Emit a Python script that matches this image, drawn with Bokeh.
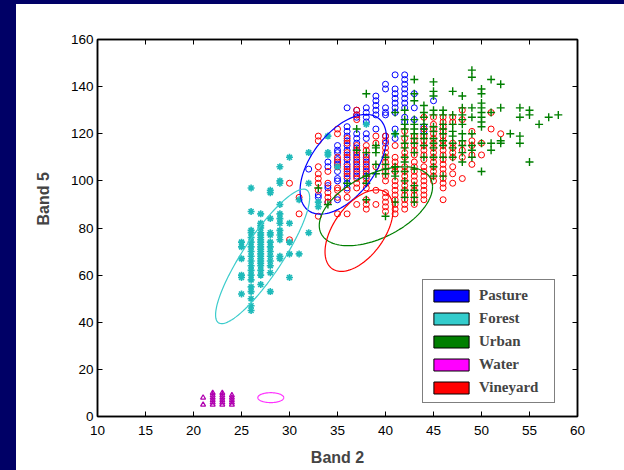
import numpy as np
from bokeh.plotting import figure
from bokeh.models import Range1d, FixedTicker, LinearAxis, Legend, LegendItem, Title, Div
from bokeh.layouts import row, column
from bokeh.embed import file_html
from bokeh.resources import INLINE

# ---------------- data (Band 2 value -> list of Band 5 values) ----------------
pasture_cols = {
    32: [105], 33: [94, 93], 34: [108, 106, 98, 97, 91],
    35: [115, 113, 112, 109, 107, 104, 101, 100, 92],
    36: [131, 123, 121, 119, 117, 115, 113, 111, 109, 107, 105, 103, 101, 99, 97],
    37: [130, 128, 127, 120, 118, 116, 114, 112, 110, 108, 106, 104, 102],
    38: [131, 129, 127, 125, 120, 118, 110, 108, 106, 104, 102],
    39: [136, 134, 132, 130, 128, 122],
    40: [141, 139, 131, 129, 128, 119, 116],
    41: [145, 139, 137, 135, 133, 131, 129, 122, 118],
    42: [145, 143, 141, 139, 137, 135, 133, 131, 127, 125],
    43: [137, 131, 126], 44: [123, 121], 45: [134],
}
forest_cols = {
    25: [74, 72, 67, 60, 59, 52],
    26: [97, 87, 79, 78, 76, 74, 72, 70, 68, 66, 64, 62, 60, 58, 55, 53, 50, 47, 45],
    27: [86, 82, 81, 80, 78, 77, 76, 75, 74, 73, 72, 71, 70, 69, 68, 67, 66, 65, 64, 62, 60, 56],
    28: [96, 95, 84, 78, 77, 74, 72, 70, 68, 66, 64, 61, 53],
    29: [106, 100, 99, 90, 86, 84, 82, 79, 77, 75, 68, 67],
    30: [110, 82, 74, 69, 59], 31: [92, 69], 32: [112, 99, 78],
    33: [91, 89], 34: [119, 112, 111], 35: [106], 38: [124], 41: [120],
}
urban_cols = {
    33: [97], 34: [90], 36: [99], 37: [122, 113],
    38: [137, 112, 102, 99, 92], 39: [115, 114, 112, 107, 103],
    40: [110, 107, 105, 103, 85], 41: [129, 120, 106, 104, 102, 91],
    42: [130, 126, 124, 122, 119, 116, 114, 110, 108, 104, 100, 96, 93],
    43: [143, 137, 134, 126, 124, 122, 120, 118, 116, 112, 105, 98, 96, 93, 91],
    44: [132, 129, 127, 124, 122, 120, 118, 115, 110],
    45: [142, 138, 136, 130, 128, 123, 121, 118, 116, 114, 110, 106, 102],
    46: [130, 128, 124, 122, 120, 117, 115, 110, 102],
    47: [138, 128, 124, 121, 119, 116, 114, 110],
    48: [136, 131, 128, 126, 124, 120, 117, 115, 112, 108],
    49: [147, 144, 131, 127, 120, 115, 113, 110],
    50: [139, 137, 133, 131, 129, 127, 125, 123, 116, 104],
    51: [143, 129, 116, 113], 52: [141, 131, 117, 116], 53: [120],
    54: [131, 127, 119, 116], 55: [130, 128, 108], 56: [124], 57: [127], 58: [128],
}
water_cols = {
    21: [8, 5], 22: [10, 9, 8, 7, 6, 5], 23: [10, 9, 8, 7, 6, 5], 24: [9, 8, 7, 6, 5],
}
vineyard_cols = {
    30: [99, 75], 31: [93, 86],
    33: [119, 117, 106, 103, 101, 99, 96, 85], 34: [104, 99, 95, 93, 91],
    35: [122, 120, 110, 108, 106, 97, 96, 93, 86],
    36: [118, 116, 112, 110, 106, 104, 102, 96, 93, 86],
    37: [130, 128, 126, 115, 113, 111, 109, 107, 105, 103, 101, 99, 97, 90],
    38: [115, 113, 111, 109, 107, 105, 103, 101, 99, 97, 92, 90, 88],
    39: [119, 116, 106, 96, 90],
    40: [119, 117, 114, 112, 110, 108, 106, 104, 102, 100, 95, 93, 91, 89, 87],
    41: [115, 110, 108, 106, 104, 100, 98, 96, 94, 92, 90, 88, 86],
    42: [121, 118, 115, 112, 110, 106, 104, 102, 100, 98, 96, 94, 92, 90, 88],
    43: [119, 117, 115, 113, 111, 108, 106, 104, 102, 100, 98, 96, 94, 92, 90],
    44: [127, 122, 119, 117, 115, 113, 111, 109, 106, 104, 102, 100, 98, 96, 94, 92],
    45: [127, 124, 122, 120, 118, 116, 114, 112, 110, 108, 106, 104, 102, 100],
    46: [127, 125, 123, 121, 119, 117, 115, 113, 111, 109, 107, 105, 103, 101, 99, 97, 92],
    47: [127, 125, 116, 114, 112, 110, 106, 103, 99],
    48: [130, 126, 116, 113, 110, 101],
    49: [121, 117, 115, 111, 107], 50: [116, 111], 51: [129, 122], 52: [120],
}

# class ellipses: centre, spread and correlation
classes = ["Pasture", "Forest", "Urban", "Water", "Vineyard"]
ell_mx = [35.6, 27.2, 39.0, 28.05, 37.25]
ell_my = [107.05, 67.95, 89.25, 8.0, 78.9]
ell_sx = [4.5, 4.9, 5.9, 1.35, 3.55]
ell_sy = [21.15, 28.55, 16.75, 2.1, 17.3]
ell_rho = [0.53, 0.87, 0.49, 0.0, 0.52]

x_ticks = [10, 15, 20, 25, 30, 35, 40, 45, 50, 55, 60]
y_ticks = [0, 20, 40, 60, 80, 100, 120, 140, 160]

legend_colors = ["#0000FF", "#33CCCC", "#007F00", "#FF00FF", "#FF0000"]
point_colors = ["#0000FF", "#1FBABA", "#007F00", "#B000B0", "#FF0000"]
ellipse_colors = ["#0000FF", "#3CCCCC", "#007F00", "#FF33FF", "#FF0000"]
NAVY = "#000066"


def flatten(cols):
    xs, ys = [], []
    for xv, yl in cols.items():
        for yv in yl:
            xs.append(xv)
            ys.append(yv)
    return xs, ys


p = figure(width=608, height=466, x_range=Range1d(10, 60), y_range=Range1d(0, 160),
           output_backend="svg", toolbar_location=None,
           min_border_left=80, min_border_right=47, min_border_top=35, min_border_bottom=54,
           background_fill_color="white", border_fill_color="white", margin=0)
p.grid.visible = False
p.outline_line_color = "black"
p.outline_line_width = 1.5

for ax, ticks in ((p.xaxis[0], x_ticks), (p.yaxis[0], y_ticks)):
    ax.ticker = FixedTicker(ticks=ticks)
    ax.major_tick_in = 5
    ax.major_tick_out = 0
    ax.minor_tick_in = 0
    ax.minor_tick_out = 0
    ax.axis_line_width = 1.5
    ax.major_tick_line_width = 1
    ax.major_label_text_font = "Liberation Sans"
    ax.major_label_text_font_size = "13.5px"
    ax.major_label_text_color = "black"

p.xaxis.major_label_standoff = 9
p.yaxis.major_label_standoff = 4
p.xaxis.axis_label = "Band 2"
p.xaxis.axis_label_standoff = 11
p.xaxis.axis_label_text_font = "Liberation Sans"
p.xaxis.axis_label_text_font_style = "bold"
p.xaxis.axis_label_text_font_size = "16px"

# box ticks on top and right (tick marks only, no labels)
for loc, ticks in (("above", x_ticks), ("right", y_ticks)):
    a = LinearAxis(ticker=FixedTicker(ticks=[], minor_ticks=ticks),
                   major_tick_in=0, major_tick_out=0,
                   minor_tick_in=5, minor_tick_out=0, minor_tick_line_color="black",
                   minor_tick_line_width=1, axis_line_width=1.5)
    p.add_layout(a, loc)

ytitle = Title(text="Band 5", align="left", offset=191, standoff=32,
               text_font="Liberation Sans", text_font_style="bold", text_font_size="16px")
p.add_layout(ytitle, "left")

# points
px, py = flatten(pasture_cols)
p.scatter(px, py, marker="circle", size=6, fill_color=None, line_color=point_colors[0], line_width=1)
vx, vy = flatten(vineyard_cols)
p.scatter(vx, vy, marker="circle", size=6, fill_color=None, line_color=point_colors[4], line_width=1)
fx, fy = flatten(forest_cols)
p.scatter(fx, fy, marker="asterisk", size=7, line_color=point_colors[1], line_width=1.6)
ux, uy = flatten(urban_cols)
p.scatter(ux, uy, marker="cross", size=8, line_color=point_colors[2], line_width=1.4)
wx, wy = flatten(water_cols)
p.scatter(wx, wy, marker="triangle", size=5, fill_color=None, line_color=point_colors[3], line_width=1.2)

# ellipses
t = np.linspace(0, 2 * np.pi, 120)
for i in range(len(classes)):
    ex = ell_mx[i] + ell_sx[i] * np.cos(t)
    ey = ell_my[i] + ell_sy[i] * (ell_rho[i] * np.cos(t) + np.sqrt(1 - ell_rho[i] ** 2) * np.sin(t))
    p.line(ex, ey, line_color=ellipse_colors[i], line_width=1.2)

# legend (filled swatches)
items = []
for i, name in enumerate(classes):
    r = p.quad(left=[np.nan], right=[np.nan], top=[np.nan], bottom=[np.nan],
               fill_color=legend_colors[i], line_color="black", line_width=1)
    items.append(LegendItem(label=name, renderers=[r]))
legend = Legend(items=items, location=(325, 13), glyph_width=44, glyph_height=15,
                label_height=18, label_width=69, label_standoff=6, padding=6, spacing=5,
                margin=0, border_line_color="black", border_line_width=1.5,
                background_fill_color="white", background_fill_alpha=1.0,
                label_text_font="Liberation Serif", label_text_font_style="bold",
                label_text_font_size="15px")
p.add_layout(legend)

topbar = Div(text="", width=624, height=4, margin=0, styles={"background-color": NAVY})
strip = Div(text="", width=16, height=466, margin=0, styles={"background-color": NAVY})
layout = column(topbar, row(strip, p, spacing=0, margin=0), spacing=0, margin=0)

open("out.html", "w").write(file_html(layout, INLINE))
